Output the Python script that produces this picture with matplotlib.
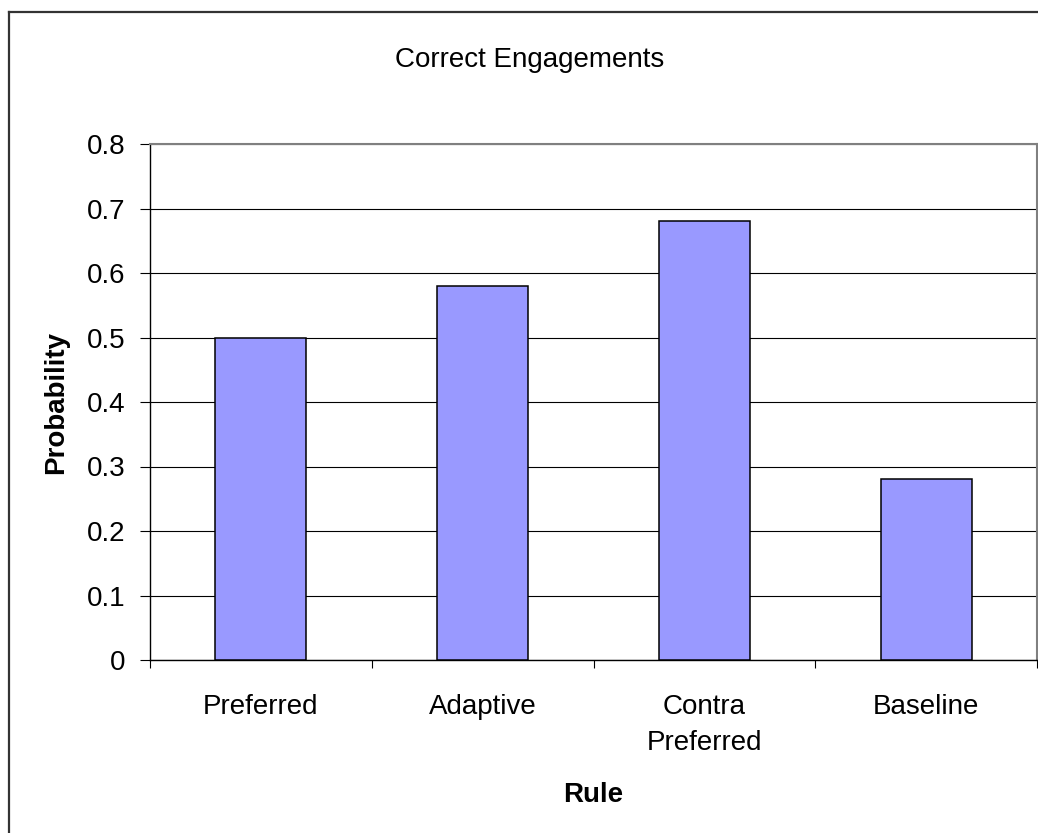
import matplotlib
matplotlib.use("Agg")
import matplotlib.pyplot as plt
from matplotlib.lines import Line2D
import numpy as np

# data
rules = ["Preferred", "Adaptive", "Contra\nPreferred", "Baseline"]
probability = [0.50, 0.58, 0.68, 0.28]
y_ticks = [0, 0.1, 0.2, 0.3, 0.4, 0.5, 0.6, 0.7, 0.8]
y_tick_labels = ["0", "0.1", "0.2", "0.3", "0.4", "0.5", "0.6", "0.7", "0.8"]

plt.rcParams["font.family"] = ["Liberation Sans", "DejaVu Sans"]

W, H = 1038, 833
fig = plt.figure(figsize=(W / 100, H / 100), dpi=100)
fig.patch.set_facecolor("white")

# plot area in pixel terms
left, right, top, bottom = 150, 1037, 144, 660
ax = fig.add_axes([left / W, 1 - bottom / H, (right - left) / W, (bottom - top) / H])

x = np.arange(len(rules))
ax.bar(x, probability, width=0.41, color="#9999FF", edgecolor="black",
       linewidth=1.1, zorder=3)

ax.set_xlim(-0.5, len(rules) - 0.5)
ax.set_ylim(0, 0.8)

# horizontal gridlines
ax.set_yticks(y_ticks)
ax.set_yticklabels(y_tick_labels, fontsize=20)
ax.yaxis.grid(True, color="black", linewidth=0.8, zorder=1)
ax.set_axisbelow(True)
ax.tick_params(axis="y", direction="out", length=7, width=0.8, pad=11)

# category boundaries get tick marks, centres get labels
ax.set_xticks(np.arange(len(rules) + 1) - 0.5)
ax.set_xticklabels([])
ax.tick_params(axis="x", which="major", direction="out", length=6, width=0.8)
ax.set_xticks(x, minor=True)
ax.set_xticklabels(rules, minor=True, fontsize=20, linespacing=1.5)
ax.tick_params(axis="x", which="minor", length=0, pad=24.5)

for side in ["left", "bottom"]:
    ax.spines[side].set_color("black")
    ax.spines[side].set_linewidth(1.0)
for side in ["top", "right"]:
    ax.spines[side].set_color("#808080")
    ax.spines[side].set_linewidth(1.5)

ax.set_xlabel("Rule", fontsize=20, fontweight="bold")
ax.xaxis.set_label_coords(0.5, (bottom - 795) / (bottom - top))
ax.xaxis.label.set_va("center")
ax.set_ylabel("Probability", fontsize=20, fontweight="bold")
ax.yaxis.set_label_coords((56 - left) / (right - left), 0.5)
ax.yaxis.label.set_va("center")

fig.text(530 / W, 1 - 60 / H, "Correct Engagements", fontsize=20,
         ha="center", va="center")

# chart frame
fig.add_artist(Line2D([8.5 / W, 8.5 / W], [0, 1 - 11.5 / H],
                      transform=fig.transFigure, color="#333333", linewidth=1.6))
fig.add_artist(Line2D([8.5 / W, 1], [1 - 11.5 / H, 1 - 11.5 / H],
                      transform=fig.transFigure, color="#333333", linewidth=1.6))

fig.savefig("out.png", dpi=100)
